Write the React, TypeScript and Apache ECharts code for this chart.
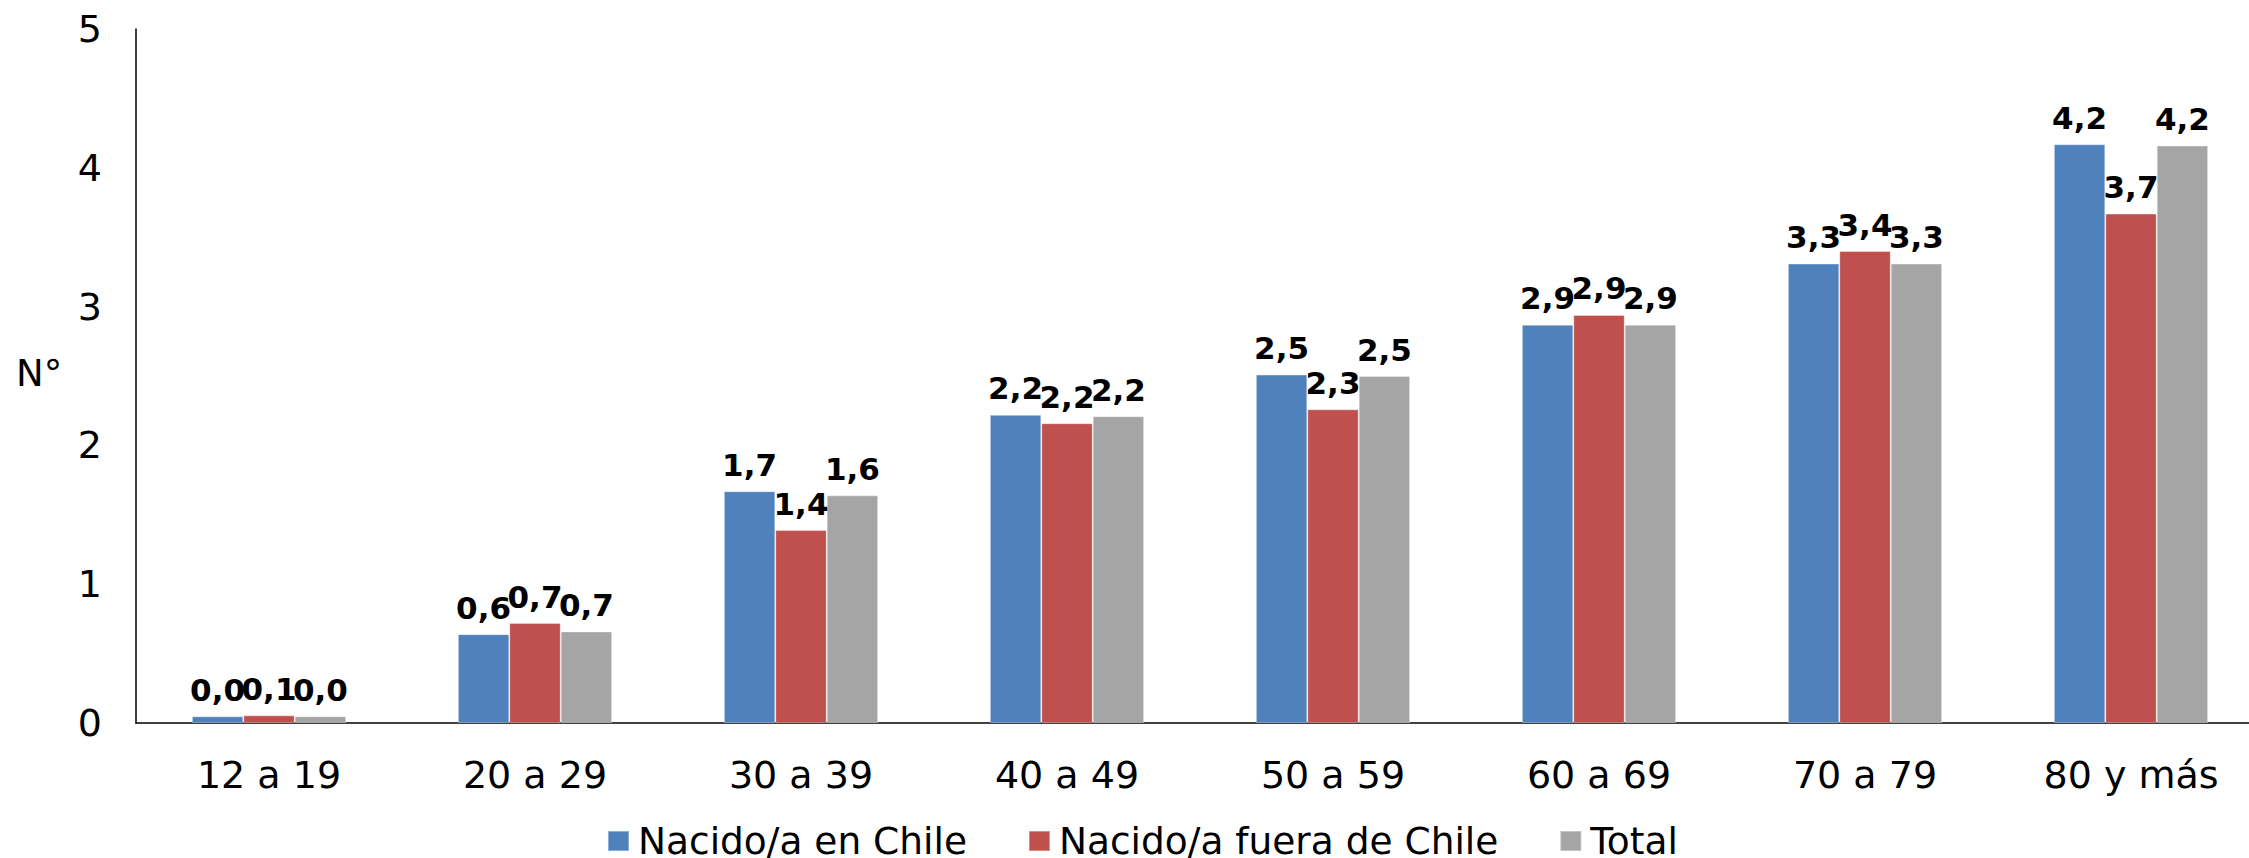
import React, { useEffect, useRef } from "react";
import * as echarts from "echarts";

const categories = ["12 a 19", "20 a 29", "30 a 39", "40 a 49", "50 a 59", "60 a 69", "70 a 79", "80 y más"];
const seriesNames = ["Nacido/a en Chile", "Nacido/a fuera de Chile", "Total"];
const nacidoChile = [0.048, 0.64, 1.67, 2.22, 2.51, 2.87, 3.31, 4.17];
const nacidoFuera = [0.055, 0.72, 1.39, 2.16, 2.26, 2.94, 3.4, 3.67];
const total = [0.049, 0.66, 1.64, 2.21, 2.5, 2.87, 3.31, 4.16];
const colors = ["#4F81BD", "#C0504D", "#A5A5A5"];
const yTicks = [0, 1, 2, 3, 4, 5];

const FONT = "DejaVu Sans";

export default function App() {
  const ref = useRef<HTMLDivElement>(null);
  useEffect(() => {
    if (!ref.current) return;
    const chart = echarts.init(ref.current, undefined, { renderer: "svg" });
    const dataSets = [nacidoChile, nacidoFuera, total];
    chart.setOption({
      animation: false,
      backgroundColor: "#ffffff",
      textStyle: { fontFamily: FONT },
      grid: { left: 136, top: 29, right: 0, bottom: 135, containLabel: false },
      legend: {
        left: 607,
        top: 822,
        padding: 0,
        itemWidth: 21,
        itemHeight: 20,
        itemGap: 61,
        icon: "rect",
        textStyle: { fontFamily: FONT, fontSize: 37.5, lineHeight: 36, color: "#000", padding: [0, 0, 0, 4] },
        data: seriesNames,
      },
      graphic: [
        {
          type: "text",
          left: 16,
          top: 355,
          style: { text: "N°", fontFamily: FONT, fontSize: 37, fill: "#000" },
        },
      ],
      xAxis: {
        type: "category",
        data: categories,
        axisLine: { lineStyle: { color: "#000", width: 1.5 } },
        axisTick: { show: false },
        axisLabel: { fontFamily: FONT, fontSize: 38, color: "#000", margin: 33, interval: 0 },
      },
      yAxis: {
        type: "value",
        min: yTicks[0],
        max: yTicks[yTicks.length - 1],
        interval: 1,
        axisLine: { show: true, lineStyle: { color: "#000", width: 1.5 } },
        axisTick: { show: false },
        splitLine: { show: false },
        axisLabel: { fontFamily: FONT, fontSize: 38, color: "#000", margin: 34 },
      },
      series: seriesNames.map((name, i) => ({
        name,
        type: "bar",
        data: dataSets[i],
        barGap: "0%",
        barCategoryGap: "42%",
        itemStyle: { color: colors[i], borderColor: "rgba(255,255,255,0.35)", borderWidth: 1 },
        label: {
          show: true,
          position: "top",
          distance: 11,
          fontFamily: FONT,
          fontWeight: "bold",
          fontSize: 31,
          color: "#000",
          formatter: (p: any) => p.value.toFixed(1).replace(".", ","),
        },
      })),
    });
    return () => chart.dispose();
  }, []);
  return <div ref={ref} style={{ position: "fixed", left: 0, top: 0, width: 2264, height: 858 }} />;
}
